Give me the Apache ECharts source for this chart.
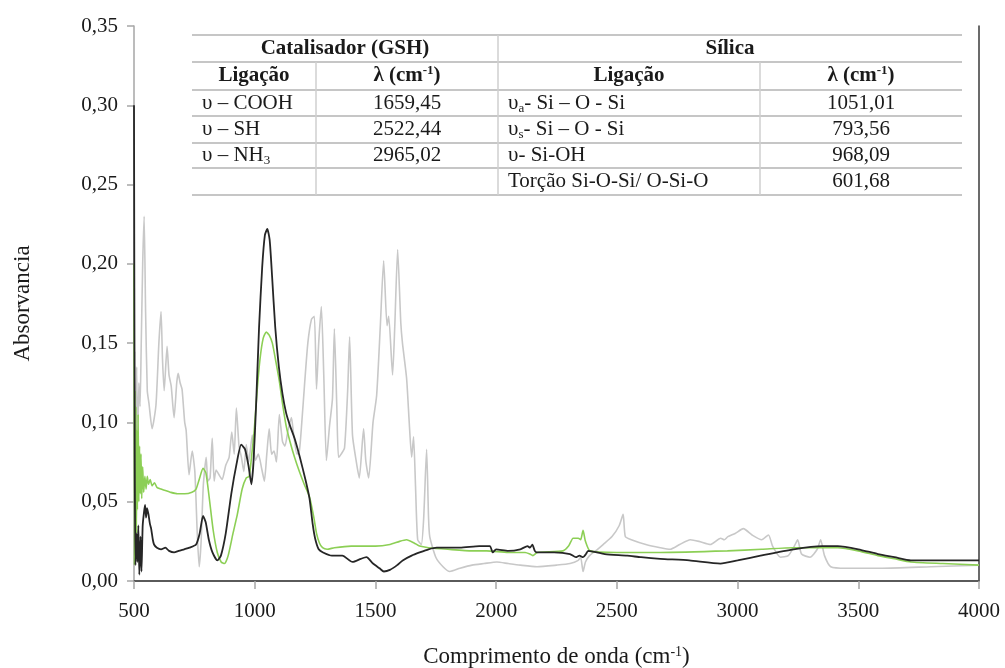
<!DOCTYPE html>
<html>
<head>
<meta charset="utf-8">
<script src="https://cdn.jsdelivr.net/npm/echarts@6/dist/echarts.min.js"></script>
<style>
  html, body { margin: 0; padding: 0; background: #ffffff; }
  #chart { width: 1005px; height: 668px; }
</style>
</head>
<body>
<div id="chart"></div>
<script>
// FTIR spectra: wavenumber (cm-1) and absorbance for each sample
const gshWavenumber = [500,503,507,511,515,520,525,530,536,542,548,555,562,575,591,603,612,618,625,637,645,654,666,677,683,691,699,710,716,728,741,752,762,770,778,787,799,806,815,824,832,840,852,865,880,894,905,915,924,935,945,955,965,975,990,1003,1015,1030,1040,1050,1060,1070,1080,1090,1102,1115,1125,1138,1152,1160,1175,1185,1195,1206,1220,1235,1247,1256,1265,1276,1286,1297,1310,1322,1330,1340,1347,1358,1372,1385,1393,1405,1420,1433,1451,1460,1472,1490,1505,1520,1534,1548,1555,1571,1580,1592,1605,1612,1629,1640,1650,1658,1666,1675,1690,1700,1712,1720,1725,1750,1780,1808,1850,1900,1950,2003,2050,2100,2169,2250,2306,2340,2350,2360,2370,2387,2420,2443,2480,2510,2526,2535,2560,2620,2680,2721,2760,2804,2840,2887,2930,2945,2960,2990,3024,3060,3100,3128,3145,3178,3210,3235,3249,3265,3300,3330,3344,3360,3386,3450,3600,3800,4000];
const gshAbs = [0.100,0.145,0.060,0.135,0.080,0.125,0.110,0.150,0.200,0.230,0.170,0.120,0.112,0.096,0.111,0.150,0.170,0.140,0.120,0.148,0.130,0.123,0.103,0.125,0.131,0.125,0.121,0.100,0.095,0.067,0.082,0.069,0.030,0.009,0.025,0.060,0.078,0.063,0.065,0.090,0.063,0.070,0.067,0.064,0.073,0.078,0.094,0.080,0.109,0.085,0.078,0.069,0.086,0.075,0.092,0.076,0.080,0.070,0.063,0.080,0.096,0.080,0.082,0.075,0.105,0.088,0.085,0.095,0.103,0.094,0.080,0.082,0.100,0.123,0.150,0.165,0.167,0.121,0.150,0.173,0.130,0.076,0.098,0.115,0.159,0.110,0.078,0.080,0.084,0.120,0.154,0.092,0.076,0.065,0.096,0.076,0.065,0.100,0.117,0.160,0.202,0.161,0.167,0.130,0.160,0.209,0.163,0.150,0.128,0.100,0.078,0.091,0.060,0.026,0.023,0.040,0.083,0.040,0.028,0.015,0.009,0.006,0.008,0.010,0.011,0.012,0.011,0.010,0.009,0.010,0.011,0.013,0.015,0.006,0.012,0.016,0.020,0.023,0.028,0.035,0.042,0.028,0.026,0.023,0.021,0.020,0.023,0.026,0.025,0.023,0.027,0.026,0.028,0.030,0.033,0.029,0.026,0.029,0.022,0.015,0.016,0.022,0.026,0.017,0.015,0.020,0.026,0.016,0.009,0.008,0.008,0.009,0.010];

const silicaWavenumber = [500,502,504,506,508,510,512,514,517,520,523,526,529,532,536,540,545,550,555,560,567,575,585,595,612,630,650,680,710,740,757,770,786,798,812,828,845,861,875,890,910,928,948,965,977,988,998,1010,1022,1035,1048,1060,1073,1088,1102,1115,1130,1146,1165,1185,1205,1227,1245,1256,1268,1281,1300,1330,1400,1500,1560,1600,1629,1660,1683,1720,1800,1900,1961,2050,2120,2140,2152,2170,2277,2300,2319,2340,2350,2360,2370,2389,2500,2680,2958,3100,3232,3415,3500,3581,3650,3718,3850,4000];
const silicaAbs = [0.200,0.010,0.120,0.040,0.110,0.030,0.095,0.045,0.105,0.050,0.085,0.055,0.080,0.052,0.072,0.056,0.066,0.058,0.066,0.061,0.064,0.060,0.062,0.059,0.058,0.057,0.056,0.055,0.055,0.056,0.058,0.064,0.071,0.068,0.052,0.032,0.018,0.012,0.011,0.016,0.030,0.042,0.058,0.065,0.066,0.080,0.095,0.120,0.140,0.153,0.157,0.155,0.150,0.138,0.126,0.112,0.098,0.088,0.078,0.069,0.061,0.053,0.040,0.030,0.024,0.021,0.020,0.021,0.022,0.022,0.023,0.025,0.026,0.024,0.022,0.021,0.020,0.019,0.019,0.018,0.018,0.017,0.016,0.018,0.019,0.022,0.027,0.027,0.026,0.032,0.025,0.019,0.018,0.018,0.019,0.020,0.021,0.021,0.019,0.016,0.014,0.012,0.011,0.010];

const catalystWavenumber = [500,503,506,510,514,518,522,527,531,536,542,546,550,554,560,566,571,578,583,595,612,630,645,666,685,708,730,757,772,786,797,810,825,845,860,880,903,925,944,960,975,986,995,1006,1018,1031,1042,1052,1062,1072,1085,1100,1115,1130,1146,1165,1187,1210,1227,1240,1250,1265,1283,1320,1363,1405,1440,1463,1490,1517,1535,1560,1590,1613,1650,1683,1720,1754,1850,1930,1974,1986,2000,2050,2100,2130,2140,2150,2160,2169,2240,2306,2330,2345,2360,2372,2381,2450,2543,2600,2680,2800,2929,3000,3095,3232,3350,3415,3500,3581,3650,3718,3850,4000];
const catalystAbs = [0.300,0.080,0.010,0.030,0.012,0.035,0.004,0.028,0.006,0.035,0.044,0.048,0.040,0.046,0.042,0.036,0.033,0.026,0.023,0.021,0.020,0.021,0.019,0.018,0.019,0.020,0.021,0.023,0.030,0.041,0.037,0.026,0.018,0.013,0.016,0.030,0.055,0.074,0.086,0.083,0.072,0.061,0.075,0.112,0.160,0.198,0.218,0.222,0.215,0.192,0.160,0.135,0.118,0.106,0.098,0.090,0.078,0.064,0.052,0.036,0.027,0.020,0.018,0.016,0.016,0.012,0.014,0.015,0.011,0.008,0.006,0.007,0.010,0.013,0.016,0.018,0.020,0.021,0.021,0.022,0.022,0.018,0.020,0.019,0.020,0.022,0.021,0.023,0.019,0.018,0.018,0.017,0.015,0.016,0.015,0.017,0.019,0.017,0.016,0.015,0.014,0.013,0.011,0.013,0.016,0.020,0.022,0.022,0.020,0.017,0.015,0.013,0.013,0.013];

// Band assignment table
const gshHeader = 'Catalisador (GSH)';
const silicaHeader = 'Sílica';
const bondHeader = 'Ligação';
const waveHeader = 'λ (cm{sup|-1})';
const gshBonds = ['υ – COOH', 'υ – SH', 'υ – NH{sub|3}', ''];
const gshBands = ['1659,45', '2522,44', '2965,02', ''];
const silicaBonds = ['υ{sub|a}- Si – O - Si', 'υ{sub|s}- Si – O - Si', 'υ- Si-OH', 'Torção Si-O-Si/ O-Si-O'];
const silicaBands = ['1051,01', '793,56', '968,09', '601,68'];

const xTicks = [500, 1000, 1500, 2000, 2500, 3000, 3500, 4000];

function pairs(xs, ys) { return xs.map((x, i) => [x, ys[i]]); }

const FONT = '"Liberation Serif", "Times New Roman", serif';
const TXT = '#1a1a1a';

const richBase = {
  sub: { fontSize: 13, fontFamily: FONT, fill: TXT, verticalAlign: 'bottom', lineHeight: 15 },
  sup: { fontSize: 13, fontFamily: FONT, fill: TXT, verticalAlign: 'top', lineHeight: 15 },
  supB: { fontSize: 13, fontFamily: FONT, fontWeight: 'bold', fill: TXT, verticalAlign: 'top', lineHeight: 15 }
};

function cell(text, x, y, align, bold) {
  const t = bold ? text.replace('{sup|', '{supB|') : text;
  return {
    type: 'text', x: x, y: y, z: 10,
    style: {
      text: t, align: align, verticalAlign: 'middle',
      fontFamily: FONT, fontSize: 21, fontWeight: bold ? 'bold' : 'normal',
      fill: TXT, lineHeight: 24, rich: richBase
    }
  };
}
function hLine(x1, x2, y) {
  return { type: 'line', z: 9, shape: { x1: x1, y1: y, x2: x2, y2: y }, style: { stroke: '#c6c6c6', lineWidth: 2 } };
}
function vLine(x, y1, y2) {
  return { type: 'line', z: 9, shape: { x1: x, y1: y1, x2: x, y2: y2 }, style: { stroke: '#cfcfcf', lineWidth: 1.5 } };
}

const tableLeft = 192, tableRight = 962;
const rowLines = [35, 62, 90, 116, 143, 168, 195];
const rowMid = [103, 129.5, 155.5, 181.5];
const graphics = [];
rowLines.forEach(y => graphics.push(hLine(tableLeft, tableRight, y)));
graphics.push(vLine(316, 62, 195), vLine(498, 35, 195), vLine(760, 62, 195));
graphics.push(cell(gshHeader, 345, 48.5, 'center', true));
graphics.push(cell(silicaHeader, 730, 48.5, 'center', true));
graphics.push(cell(bondHeader, 254, 76, 'center', true));
graphics.push(cell(waveHeader, 407, 76, 'center', true));
graphics.push(cell(bondHeader, 629, 76, 'center', true));
graphics.push(cell(waveHeader, 861, 76, 'center', true));
rowMid.forEach((y, i) => {
  if (gshBonds[i]) graphics.push(cell(gshBonds[i], 202, y, 'left', false));
  if (gshBands[i]) graphics.push(cell(gshBands[i], 407, y, 'center', false));
  graphics.push(cell(silicaBonds[i], 508, y, 'left', false));
  graphics.push(cell(silicaBands[i], 861, y, 'center', false));
});

const chart = echarts.init(document.getElementById('chart'), null, { renderer: 'canvas' });
const axisGray = '#a6a6a6';
chart.setOption({
  animation: false,
  backgroundColor: '#ffffff',
  grid: { left: 134, right: 26, top: 26, bottom: 87, containLabel: false, outerBoundsMode: 'none' },
  xAxis: [{
    type: 'value', min: 500, max: 4000, interval: 500,
    axisLine: { show: true, onZero: false, lineStyle: { color: axisGray, width: 1.5 } },
    axisTick: { show: true, length: 8, lineStyle: { color: axisGray, width: 1.5 } },
    splitLine: { show: false },
    axisLabel: { margin: 20, fontFamily: FONT, fontSize: 21, color: TXT, formatter: v => xTicks.includes(v) ? String(v) : '' },
    name: 'Comprimento de onda (cm{sup|-1})',
    nameLocation: 'middle', nameGap: 64,
    nameTextStyle: { fontFamily: FONT, fontSize: 23, color: TXT,
      rich: { sup: { fontFamily: FONT, fontSize: 14, color: TXT, verticalAlign: 'top', lineHeight: 16 } } }
  }, {
    type: 'value', min: 500, max: 4000, position: 'top',
    axisLine: { show: true, lineStyle: { color: '#3a3a3a', width: 1.5 } },
    axisTick: { show: false }, axisLabel: { show: false }, splitLine: { show: false }
  }],
  yAxis: [{
    type: 'value', min: 0, max: 0.35, interval: 0.05,
    axisLine: { show: true, lineStyle: { color: axisGray, width: 1.5 } },
    axisTick: { show: true, length: 7, lineStyle: { color: axisGray, width: 1.5 } },
    splitLine: { show: false },
    axisLabel: { margin: 16, fontFamily: FONT, fontSize: 21, color: TXT, formatter: v => v.toFixed(2).replace('.', ',') },
    name: 'Absorvancia', nameLocation: 'middle', nameGap: 100, nameRotate: 90,
    nameTextStyle: { fontFamily: FONT, fontSize: 23, color: TXT }
  }, {
    type: 'value', min: 0, max: 0.35, position: 'right',
    axisLine: { show: true, lineStyle: { color: '#3a3a3a', width: 1.5 } },
    axisTick: { show: false }, axisLabel: { show: false }, splitLine: { show: false }
  }],
  series: [{
    name: 'GSH', type: 'line', data: pairs(gshWavenumber, gshAbs),
    showSymbol: false, smooth: 0.2, lineStyle: { color: '#c8c8c8', width: 1.6 }, z: 2
  }, {
    name: 'Sílica', type: 'line', data: pairs(silicaWavenumber, silicaAbs),
    showSymbol: false, smooth: 0.2, lineStyle: { color: '#8ccf55', width: 1.6 }, z: 3
  }, {
    name: 'Catalisador', type: 'line', data: pairs(catalystWavenumber, catalystAbs),
    showSymbol: false, smooth: 0.2, lineStyle: { color: '#262626', width: 1.8 }, z: 4
  }],
  graphic: graphics
});
</script>
</body>
</html>
